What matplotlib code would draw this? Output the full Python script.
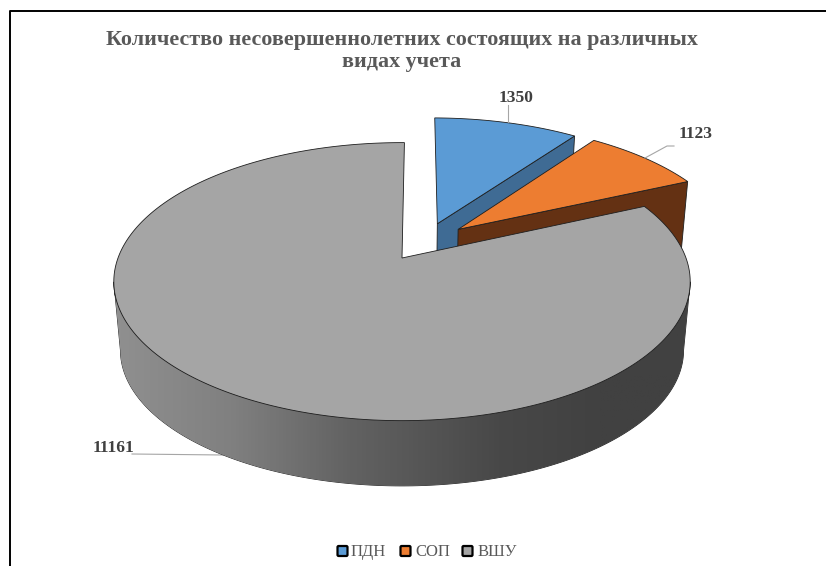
import numpy as np
import matplotlib
matplotlib.use('Agg')
import matplotlib.pyplot as plt
from matplotlib.patches import Polygon, FancyBboxPatch
from matplotlib.colors import LinearSegmentedColormap

labels = ['ПДН', 'СОП', 'ВШУ']
values = [1350, 1123, 11161]
colors = ['#5b9bd5', '#ed7d31', '#a5a5a5']
wall_colors = ['#3f6b94', '#643113', '#a5a5a5']
title = 'Количество несовершеннолетних состоящих на различных\nвидах учета'

# explode of each slice on the disk plane (right, back) and its radius
explode = [(0.13, 0.265), (0.205, 0.22), (0.0, 0.0)]
radius = [0.995, 0.995, 1.0]
first_angle = 0.01

# projection of the disk, pixels
cx, cy = 402, 258
a, b, k = 284, 135, 0.17
shrink = 0.977
drop = 69

plt.rcParams['font.family'] = ['Liberation Serif', 'DejaVu Serif']


def project(u, v):
    s = 1 / (1 + k * v)
    return cx + a * u * s, cy - b * v * s


def lower(x, y):
    return cx + (x - cx) * shrink, cy + (y - cy) * shrink + drop


fig = plt.figure(figsize=(8.26, 5.66), dpi=100)
ax = fig.add_axes([0, 0, 1, 1])
ax.set_xlim(0, 826)
ax.set_ylim(566, 0)
ax.axis('off')

# frame of the chart, only left and top are there
ax.plot([10, 10, 826], [566, 11, 11], color='black', lw=1.4, zorder=1)

# shade of the outer wall, left to right
shade_x = np.array([112, 230, 350, 500, 600, 690])
shade_g = np.array([0x90, 0x80, 0x62, 0x48, 0x41, 0x41]) / 255
shade = LinearSegmentedColormap.from_list(
    'wall', [(float((x - 112) / 578), (float(g),) * 3) for x, g in zip(shade_x, shade_g)])

total = sum(values)
start = first_angle
edge = '#1e1e1e'
z = 2
for i in range(len(values)):
    sweep = 2 * np.pi * values[i] / total
    th = np.linspace(start, start + sweep, 400 if i == 2 else 40)
    du, dv = explode[i]
    r = radius[i]
    ox, oy = project(du + r * np.sin(th), dv + r * np.cos(th))
    ax0, ay0 = project(du, dv)
    if i < 2:
        # radial wall on the closing side of the exploded slice
        bx0, by0 = lower(ax0, ay0)
        bx1, by1 = lower(ox[-1], oy[-1])
        ax.add_patch(Polygon([(ax0, ay0), (ox[-1], oy[-1]), (bx1, by1), (bx0, by0)],
                             closed=True, fc=wall_colors[i], ec=edge, lw=0.6, zorder=z))
    else:
        # outer wall of the big slice, only the part between the two widest points
        i0, i1 = np.argmax(ox), np.argmin(ox)
        fx, fy = ox[i0:i1 + 1], oy[i0:i1 + 1]
        bx, by = lower(fx, fy)
        wall = Polygon(list(zip(fx, fy)) + list(zip(bx[::-1], by[::-1])), closed=True,
                       fc='none', ec=edge, lw=0.6, zorder=z)
        ax.add_patch(wall)
        img = ax.imshow(np.linspace(0, 1, 300).reshape(1, -1), cmap=shade, vmin=0, vmax=1,
                        extent=(112, 690, 500, 250), aspect='auto', zorder=z)
        img.set_clip_path(wall)
        ax.set_xlim(0, 826)
        ax.set_ylim(566, 0)
    pts = [(ax0, ay0)] + list(zip(ox, oy))
    ax.add_patch(Polygon(pts, closed=True, fc=colors[i], ec=edge, lw=0.6, zorder=z + 1))
    z += 2
    start += sweep

# leader lines and data labels
line_c = '#a6a6a6'
ax.plot([508, 508], [105, 122], color=line_c, lw=0.8, zorder=10)
ax.plot([674, 667, 645], [146, 146, 158], color=line_c, lw=0.8, zorder=10)
ax.plot([132, 223], [454, 455], color=line_c, lw=0.8, zorder=1)
label_pos = [(516.5, 98), (696, 134.5), (113, 448.5)]
for v, p in zip(values, label_pos):
    ax.text(p[0], p[1], str(v), ha='center', va='center', fontsize=12.6,
            fontweight='bold', color='#404040', zorder=11)

ax.text(401.5, 51, title, ha='center', va='center', fontsize=15.8, fontweight='bold',
        color='#595959', linespacing=1.2, zorder=11)

# legend
leg_sq = [337, 400, 462]
leg_tx = [351, 415, 478]
for i in range(len(labels)):
    ax.add_patch(FancyBboxPatch((leg_sq[i] + 1.5, 547), 8, 8,
                                boxstyle='round,pad=1,rounding_size=1.2',
                                fc=colors[i], ec='black', lw=1.6, zorder=11))
    ax.text(leg_tx[i], 552, labels[i], ha='left', va='center', fontsize=12,
            color='#595959', zorder=11)

fig.savefig('out.png', dpi=100)
